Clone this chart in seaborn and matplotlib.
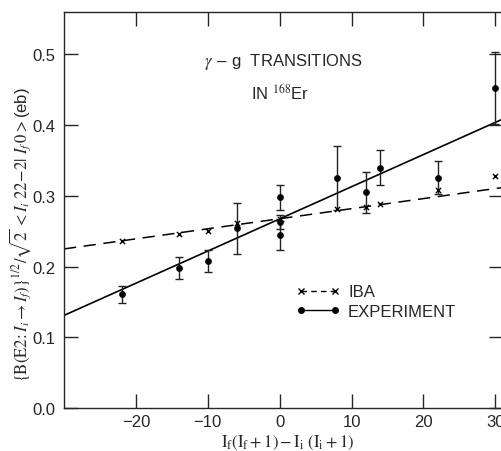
import matplotlib
matplotlib.use("Agg")
import matplotlib.pyplot as plt
from matplotlib.lines import Line2D
import seaborn as sns
import pandas as pd

# experiment points (x = If(If+1) - Ii(Ii+1))
exp_x = [-22, -14, -10, -6, 0, 0, 0, 8, 12, 14, 22, 30]
exp_y = [0.161, 0.198, 0.208, 0.254, 0.298, 0.263, 0.244, 0.325, 0.305, 0.340, 0.326, 0.453]
exp_err = [0.012, 0.015, 0.015, 0.036, 0.018, 0.010, 0.020, 0.045, 0.029, 0.025, 0.024, 0.051]

# IBA calculation points
iba_x = [-22, -14, -10, -6, 0, 8, 12, 14, 22, 30]
iba_y = [0.236, 0.246, 0.250, 0.261, 0.268, 0.282, 0.285, 0.288, 0.308, 0.328]

# straight lines through the points
line_x = [-30, 31.1]
fit_y = [0.131, 0.409]
iba_line_y = [0.225, 0.312]

sns.set_style("ticks")
plt.rcParams["font.family"] = ["Liberation Sans", "DejaVu Sans"]
plt.rcParams["mathtext.fontset"] = "stix"

fig = plt.figure(figsize=(5.02, 4.52), dpi=100)
ax = fig.add_axes([0.1275, 0.0951, 0.875, 0.876])

lines = pd.DataFrame({"x": line_x * 2,
                      "y": fit_y + iba_line_y,
                      "kind": ["fit"] * 2 + ["iba"] * 2})
sns.lineplot(data=lines[lines.kind == "fit"], x="x", y="y", color="black",
             lw=1.2, ax=ax, legend=False)
sns.lineplot(data=lines[lines.kind == "iba"], x="x", y="y", color="black",
             lw=1.1, ax=ax, legend=False, linestyle=(0, (8, 5)))

ax.errorbar(exp_x, exp_y, yerr=exp_err, fmt="none", ecolor="#222222",
            elinewidth=1.0, capsize=3, capthick=1.0)
sns.scatterplot(x=exp_x, y=exp_y, color="black", s=20, edgecolor="black",
                ax=ax, zorder=5)
sns.scatterplot(x=iba_x, y=iba_y, color="black", marker="x", s=14,
                linewidth=1.0, ax=ax, zorder=5)

ax.set_xlim(-30, 31.1)
ax.set_ylim(0, 0.56)
ax.set_xticks([-20, -10, 0, 10, 20, 30])
ax.set_yticks([0.0, 0.1, 0.2, 0.3, 0.4, 0.5])
ax.set_yticklabels(["0.0", "0.1", "0.2", "0.3", "0.4", "0.5"])
ax.tick_params(direction="in", top=True, right=True, length=10, width=1,
               labelsize=12, pad=6)
ax.tick_params(axis="x", pad=4)
for s in ax.spines.values():
    s.set_linewidth(1.0)

ax.set_xlabel(r"$\mathrm{I_f(I_f+1)-I_i\ (I_i+1)}$", fontsize=12)
ax.xaxis.set_label_coords(0.51, -0.063)
ax.set_ylabel(r"$\{\mathrm{B(E2\!:}I_i\rightarrow I_f)\}^{1/2}/\sqrt{2}\,<I_i\ 22\!-\!2|\ I_f\,0>$(eb)",
              fontsize=12)
ax.yaxis.set_label_coords(-0.07, 0.44)

ax.text(0.499, 0.876, r"$\gamma$ $-$ g  TRANSITIONS", transform=ax.transAxes,
        ha="center", va="center", fontsize=12)
ax.text(0.492, 0.798, r"IN $^{168}$Er", transform=ax.transAxes,
        ha="center", va="center", fontsize=12)

handles = [Line2D([], [], color="black", lw=1.0, linestyle=(0, (4, 3)),
                  marker="x", markersize=4),
           Line2D([], [], color="black", lw=1.0, marker="o", markersize=4)]
ax.legend(handles, ["IBA", "EXPERIMENT"], numpoints=2, frameon=False,
          loc="upper left", bbox_to_anchor=(0.495, 0.35), fontsize=12,
          handlelength=2.6, handletextpad=0.5, labelspacing=0.25)

fig.savefig("out.png", dpi=100)
